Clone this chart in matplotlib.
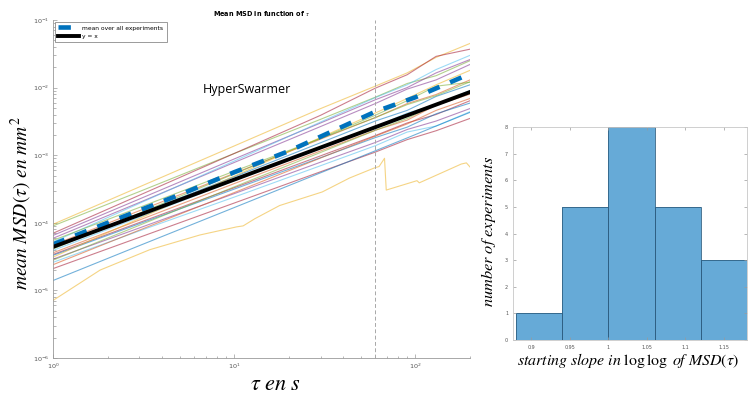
import matplotlib
matplotlib.use("Agg")
import matplotlib.pyplot as plt
from matplotlib.ticker import LogLocator, NullFormatter

plt.rcParams['mathtext.fontset'] = 'stix'

#------------------------------------Data---------------------------------------

# lag times (s) at which each experiment MSD was read
tau_grid = [1, 3, 10, 30, 60, 90, 130, 200]

# one row per experiment, mean MSD in mm^2
msd_exp = [
    [9.5e-5, 3.4e-4, 1.37e-3, 4.9e-3, 1.05e-2, 1.65e-2, 2.8e-2, 4.5e-2],
    [9.0e-5, 2.9e-4, 1.06e-3, 3.4e-3, 7.2e-3, 1.15e-2, 1.5e-2, 2.5e-2],
    [7.0e-5, 2.56e-4, 1.06e-3, 3.9e-3, 9.8e-3, 1.55e-2, 2.9e-2, 3.7e-2],
    [6.5e-5, 2.25e-4, 8.8e-4, 3.0e-3, 6.6e-3, 1.0e-2, 1.65e-2, 2.6e-2],
    [5.9e-5, 2.0e-4, 7.8e-4, 2.66e-3, 5.8e-3, 9.5e-3, 1.3e-2, 2.2e-2],
    [5.2e-5, 1.94e-4, 8.2e-4, 3.1e-3, 7.1e-3, 1.1e-2, 1.85e-2, 3.0e-2],
    [4.7e-5, 1.51e-4, 5.4e-4, 1.73e-3, 3.6e-3, 5.8e-3, 7.9e-3, 1.3e-2],
    [4.3e-5, 1.36e-4, 4.8e-4, 1.53e-3, 3.2e-3, 4.6e-3, 7.4e-3, 1.1e-2],
    [4.1e-5, 1.39e-4, 5.3e-4, 1.79e-3, 3.9e-3, 6.4e-3, 1.05e-2, 1.2e-2],
    [3.9e-5, 1.21e-4, 4.2e-4, 1.29e-3, 2.64e-3, 4.2e-3, 5.6e-3, 9.1e-3],
    [3.6e-5, 1.10e-4, 3.8e-4, 1.16e-3, 2.34e-3, 3.3e-3, 5.5e-3, 8.0e-3],
    [3.4e-5, 1.01e-4, 3.3e-4, 9.8e-4, 1.95e-3, 3.0e-3, 4.0e-3, 6.4e-3],
    [3.3e-5, 9.7e-5, 3.15e-4, 9.2e-4, 1.82e-3, 2.6e-3, 4.1e-3, 5.9e-3],
    [3.1e-5, 1.16e-4, 4.9e-4, 1.83e-3, 4.2e-3, 6.9e-3, 1.1e-2, 1.8e-2],
    [2.9e-5, 8.4e-5, 2.7e-4, 7.9e-4, 1.54e-3, 2.4e-3, 3.2e-3, 4.9e-3],
    [2.8e-5, 9.2e-5, 3.4e-4, 1.10e-3, 2.33e-3, 3.5e-3, 5.6e-3, 8.6e-3],
    [2.6e-5, 7.6e-5, 2.4e-4, 7.0e-4, 1.38e-3, 2.2e-3, 2.7e-3, 4.4e-3],
    [2.4e-5, 7.8e-5, 2.8e-4, 9.1e-4, 1.91e-3, 2.9e-3, 4.6e-3, 6.9e-3],
    [2.1e-5, 6.1e-5, 1.96e-4, 5.7e-4, 1.11e-3, 1.7e-3, 2.3e-3, 3.5e-3],
    [1.4e-5, 4.6e-5, 1.68e-4, 5.5e-4, 1.16e-3, 1.8e-3, 2.7e-3, 4.3e-3],
    [5.5e-5, 1.69e-4, 5.8e-4, 1.77e-3, 3.6e-3, 5.6e-3, 7.6e-3, 1.22e-2],
]
exp_colors = ['#EDB120', '#77AC30', '#A2142F', '#7E2F8E', '#7E2F8E', '#4DBEEE',
              '#D95319', '#0072BD', '#77AC30', '#4DBEEE', '#D95319', '#A2142F',
              '#0072BD', '#EDB120', '#7E2F8E', '#77AC30', '#4DBEEE', '#D95319',
              '#A2142F', '#0072BD', '#77AC30']

# the lowest experiment (with the jump after 60 s)
tau_low = [1, 1.82, 3.42, 6.46, 10.3, 11.2, 13, 17.8, 30.6, 43.3, 59.5, 63, 67.5, 69,
           102, 105, 179, 191, 200]
msd_low = [7.1e-6, 2.0e-5, 4.0e-5, 6.6e-5, 8.7e-5, 9.0e-5, 1.15e-4, 1.8e-4, 2.86e-4,
           4.6e-4, 6.5e-4, 6.8e-4, 9.0e-4, 3.05e-4, 4.2e-4, 3.9e-4, 7.4e-4, 7.7e-4, 6.7e-4]

# mean over all experiments and reference y = x
tau_mean = [1, 2, 5, 10, 20, 60, 100, 200]
msd_mean = [4.8e-5, 1.0e-4, 2.6e-4, 5.6e-4, 1.15e-3, 4.4e-3, 7.2e-3, 1.6e-2]
tau_ref = [1, 200]
msd_ref = [4.4e-5, 8.6e-3]
tau_cut = 60

# histogram of starting slopes
bin_edges = [0.88, 0.94, 1.0, 1.06, 1.12, 1.18]
bin_counts = [1, 5, 8, 5, 3]
hist_xticks = [0.9, 0.95, 1, 1.05, 1.1, 1.15]
hist_xticklabels = ['0.9', '0.95', '1', '1.05', '1.1', '1.15']

#------------------------------------Figure-------------------------------------

fig = plt.figure(figsize=(7.48, 3.96), dpi=100)
axis_gray = '#9a9a9a'
label_gray = '#555555'

ax = fig.add_axes([53/748, 1-358/396, (470-53)/748, (358-20)/396])
for row, col in zip(msd_exp, exp_colors):
    ax.plot(tau_grid, row, color=col, lw=0.8, alpha=0.55)
ax.plot(tau_low, msd_low, color='#EDB120', lw=0.8, alpha=0.55)
ax.axvline(tau_cut, color='#a8a8a8', lw=0.7, dashes=(4, 2.5))
ax.plot(tau_mean, msd_mean, color='#0072BD', lw=3.3, dashes=(2.7, 2.5),
        label='mean over all experiments')
ax.plot(tau_ref, msd_ref, color='black', lw=2.8, label='y = x')

ax.set_xscale('log')
ax.set_yscale('log')
ax.set_xlim(1, 200)
ax.set_ylim(1e-6, 1e-1)
ax.yaxis.set_major_locator(LogLocator(base=10, numticks=10))
ax.yaxis.set_minor_locator(LogLocator(base=10, subs=range(2, 10), numticks=10))
ax.yaxis.set_minor_formatter(NullFormatter())
ax.xaxis.set_minor_formatter(NullFormatter())
for side in ['top', 'right']:
    ax.spines[side].set_visible(False)
for side in ['left', 'bottom']:
    ax.spines[side].set_color(axis_gray)
    ax.spines[side].set_linewidth(0.6)
ax.tick_params(which='both', direction='in', colors=axis_gray, labelcolor=label_gray,
               labelsize=4.6, width=0.5, pad=2.5)
ax.tick_params(which='major', length=3)
ax.tick_params(which='minor', length=1.8)
ax.set_title(r'Mean MSD in function of $\tau$', fontsize=4.7, fontweight='bold', pad=3)

leg = ax.legend(loc='upper left', fontsize=4.3, handlelength=3.4, handletextpad=0.6,
                borderaxespad=0.35, fancybox=False, framealpha=1, borderpad=0.55,
                labelspacing=0.55)
leg.get_frame().set_edgecolor('#8a8a8a')
leg.get_frame().set_linewidth(0.6)

fig.text(203/748, 1-89/396, 'HyperSwarmer', fontsize=9, family='Open Sans',
         va='center', ha='left')
fig.text(21/748, 1-203/396, r'$mean\ MSD(\tau)\ en\ mm^2$', fontsize=14,
         rotation=90, ha='center', va='center')
fig.text(275/748, 1-384/396, r'$\tau\ en\ s$', fontsize=16, ha='center', va='center')

# histogram
hx = fig.add_axes([513/748, 1-340/396, (747-513)/748, (340-127)/396])
hx.stairs(bin_counts, bin_edges, fill=True, facecolor='#66AAD7', edgecolor='none')
for left, right, cnt in zip(bin_edges[:-1], bin_edges[1:], bin_counts):
    hx.bar(left, cnt, width=right-left, align='edge', facecolor='none',
           edgecolor='#2e5f82', lw=0.6)
hx.set_xlim(0.876, 1.18)
hx.set_ylim(0, 8)
hx.set_xticks(hist_xticks)
hx.set_xticklabels(hist_xticklabels)
hx.set_yticks(range(0, 9))
for side in hx.spines:
    hx.spines[side].set_color('#c8c8c8')
    hx.spines[side].set_linewidth(0.6)
hx.tick_params(direction='in', colors=axis_gray, labelcolor=label_gray, labelsize=3.5,
               length=2, width=0.5, top=True, right=True)
fig.text(488/748, 1-231/396, r'$number\ of\ experiments$', fontsize=11.8,
         rotation=90, ha='center', va='center')
fig.text(628/748, 1-360/396, r'$starting\ slope\ in\ \log\log\ of\ MSD(\tau)$',
         fontsize=11.4, ha='center', va='center')

fig.savefig('out.png', dpi=100)
